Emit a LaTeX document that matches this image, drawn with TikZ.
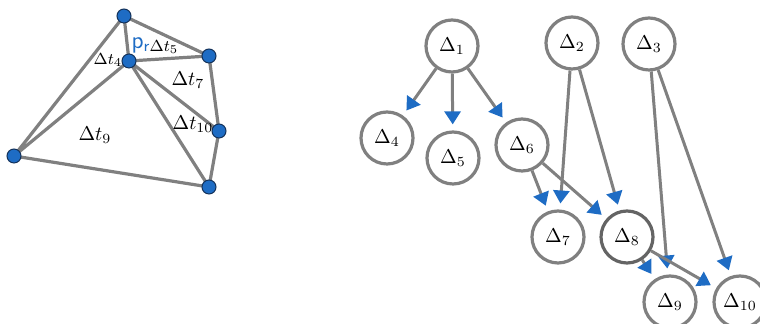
\documentclass[tikz,border=0pt]{standalone}
\usetikzlibrary{arrows.meta}
\definecolor{edgegray}{RGB}{128,128,128}
\definecolor{darkgray8}{RGB}{100,100,100}
\definecolor{ptblue}{RGB}{30,108,196}
\definecolor{ptrim}{RGB}{20,50,90}
\tikzset{
  mesh/.style={draw=edgegray, line width=1.6pt},
  vtx/.style={circle, fill=ptblue, draw=ptrim, line width=0.5pt, minimum size=7pt, inner sep=0pt},
  tri/.style={circle, draw=edgegray, line width=1.6pt, minimum size=26pt, inner sep=0pt, fill=white},
  dep/.style={draw=edgegray, line width=1.5pt, shorten >=3pt,
    -{Triangle[width=8pt,length=6.5pt,fill=ptblue,color=ptblue]}},
}
\begin{document}
\begin{tikzpicture}[x=0.5pt,y=-0.5pt]
\useasboundingbox (0,0) rectangle (760,324);

% --- triangulation around the point p_r ---
\coordinate (a) at (124,16);
\coordinate (p) at (129,61);
\coordinate (b) at (209,56);
\coordinate (c) at (219,131);
\coordinate (d) at (209,187);
\coordinate (e) at (14,156);
\draw[mesh] (a) -- (p) (a) -- (b) (p) -- (b) (a) -- (e) (p) -- (e)
            (p) -- (c) (p) -- (d) (b) -- (c) (c) -- (d) (e) -- (d);
\foreach \v in {a,p,b,c,d,e} \node[vtx] (v\v) at (\v) {};

\node[text=ptblue, font=\sffamily\large] (pr) at (141,45) {p\textsubscript{r}};
\node[font=\footnotesize] (t4) at (108,60) {$\Delta t_4$};
\node[font=\footnotesize] (t5) at (164,47) {$\Delta t_5$};
\node (t7) at (188,80) {$\Delta t_7$};
\node (t10) at (193,124) {$\Delta t_{10}$};
\node (t9) at (95,135) {$\Delta t_9$};

% --- dependency graph of triangles ---
\node[tri] (d1) at (452,46) {$\Delta_1$};
\node[tri] (d2) at (572,43) {$\Delta_2$};
\node[tri] (d3) at (649,44) {$\Delta_3$};
\node[tri] (d4) at (387,138) {$\Delta_4$};
\node[tri] (d5) at (453,158) {$\Delta_5$};
\node[tri] (d6) at (522,145) {$\Delta_6$};
\node[tri] (d7) at (558,237) {$\Delta_7$};
\node[tri, draw=darkgray8] (d8) at (627,237) {$\Delta_8$};
\node[tri] (d9) at (670,302) {$\Delta_9$};
\node[tri] (d10) at (740,302) {$\Delta_{10}$};

\draw[dep] (d1) -- (d4);
\draw[dep] (d1) -- (d5);
\draw[dep] (d1) -- (d6);
\draw[dep] (d2) -- (d7);
\draw[dep] (d2) -- (d8);
\draw[dep] (d3) -- (d9);
\draw[dep] (d3) -- (d10);
\draw[dep] (d6) -- (d7);
\draw[dep] (d6) -- (d8);
\draw[dep] (d8) -- (d9);
\draw[dep] (d8) -- (d10);
\end{tikzpicture}
\end{document}
